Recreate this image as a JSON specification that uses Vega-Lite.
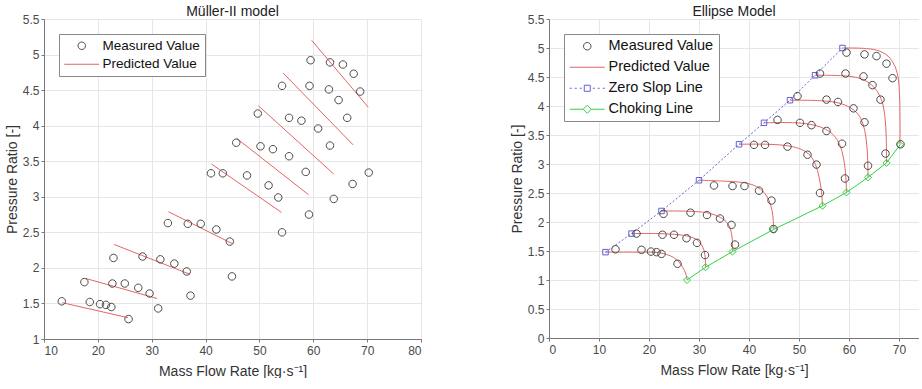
{
  "$schema": "https://vega.github.io/schema/vega-lite/v6.json",
  "padding": {"left": 5, "top": 5, "right": 0, "bottom": 0},
  "background": "white",
  "config": {
    "font": "Liberation Sans",
    "view": {"stroke": null},
    "axis": {"labelFont": "Liberation Sans", "labelFontSize": 12, "labelColor": "#4a4a4a", "titleFont": "Liberation Sans", "titleFontSize": 14, "titleFontWeight": "normal", "titleColor": "#333333", "gridColor": "#e6e6e6", "domainColor": "#777777", "tickColor": "#777777", "tickSize": 3, "labelPadding": 2},
    "axisX": {"titlePadding": 8, "labelPadding": 3},
    "axisY": {"titlePadding": 3},
    "title": {"font": "Liberation Sans", "fontSize": 14, "fontWeight": "normal", "color": "#222222", "offset": 0, "dy": 10},
    "concat": {"spacing": 88}
  },
  "resolve": {"scale": {"color": "independent", "shape": "independent"}, "legend": {"color": "independent", "shape": "independent"}},
  "datasets": {
    "meas": [
      {"x": 13.3, "y": 1.53}, {"x": 18.5, "y": 1.52}, {"x": 20.4, "y": 1.49}, {"x": 21.5, "y": 1.48}, {"x": 22.5, "y": 1.45}, {"x": 25.7, "y": 1.28},
      {"x": 17.5, "y": 1.80}, {"x": 22.7, "y": 1.78}, {"x": 25.0, "y": 1.78}, {"x": 27.5, "y": 1.72}, {"x": 29.6, "y": 1.64}, {"x": 31.2, "y": 1.43},
      {"x": 22.9, "y": 2.14}, {"x": 28.3, "y": 2.16}, {"x": 31.6, "y": 2.12}, {"x": 34.2, "y": 2.06}, {"x": 36.5, "y": 1.95}, {"x": 37.2, "y": 1.61},
      {"x": 33.0, "y": 2.63}, {"x": 36.7, "y": 2.62}, {"x": 39.1, "y": 2.62}, {"x": 42.0, "y": 2.54}, {"x": 44.5, "y": 2.37}, {"x": 44.9, "y": 1.88},
      {"x": 41.0, "y": 3.33}, {"x": 43.2, "y": 3.33}, {"x": 47.7, "y": 3.30}, {"x": 51.7, "y": 3.16}, {"x": 53.5, "y": 2.99}, {"x": 54.2, "y": 2.50},
      {"x": 45.7, "y": 3.76}, {"x": 50.2, "y": 3.71}, {"x": 52.5, "y": 3.67}, {"x": 55.5, "y": 3.57}, {"x": 58.6, "y": 3.35}, {"x": 59.2, "y": 2.75},
      {"x": 49.7, "y": 4.17}, {"x": 55.5, "y": 4.11}, {"x": 57.8, "y": 4.07}, {"x": 60.9, "y": 3.96}, {"x": 63.1, "y": 3.72}, {"x": 63.8, "y": 2.97},
      {"x": 54.2, "y": 4.56}, {"x": 59.3, "y": 4.56}, {"x": 62.9, "y": 4.51}, {"x": 64.7, "y": 4.36}, {"x": 66.3, "y": 4.11}, {"x": 67.3, "y": 3.18},
      {"x": 59.5, "y": 4.92}, {"x": 63.1, "y": 4.89}, {"x": 65.5, "y": 4.86}, {"x": 67.5, "y": 4.73}, {"x": 68.7, "y": 4.48}, {"x": 70.3, "y": 3.34}
    ],
    "mpred": [
      {"line": 1, "x": 13.4, "y": 1.51}, {"line": 1, "x": 25.6, "y": 1.30},
      {"line": 2, "x": 17.8, "y": 1.85}, {"line": 2, "x": 31.0, "y": 1.57},
      {"line": 3, "x": 23.0, "y": 2.33}, {"line": 3, "x": 37.1, "y": 1.91},
      {"line": 4, "x": 33.1, "y": 2.79}, {"line": 4, "x": 45.0, "y": 2.34},
      {"line": 5, "x": 41.1, "y": 3.46}, {"line": 5, "x": 54.1, "y": 2.78},
      {"line": 6, "x": 45.8, "y": 3.82}, {"line": 6, "x": 59.1, "y": 3.03},
      {"line": 7, "x": 49.8, "y": 4.28}, {"line": 7, "x": 63.8, "y": 3.32},
      {"line": 8, "x": 54.4, "y": 4.74}, {"line": 8, "x": 67.4, "y": 3.73},
      {"line": 9, "x": 59.7, "y": 5.20}, {"line": 9, "x": 70.2, "y": 4.26}
    ],
    "epred": [
      {"curve": 1, "i": 1, "x": 11.3, "y": 1.48}, {"curve": 1, "i": 2, "x": 17.0, "y": 1.48}, {"curve": 1, "i": 3, "x": 21.7, "y": 1.475}, {"curve": 1, "i": 4, "x": 23.5, "y": 1.44}, {"curve": 1, "i": 5, "x": 24.9, "y": 1.39}, {"curve": 1, "i": 6, "x": 26.0, "y": 1.31}, {"curve": 1, "i": 7, "x": 26.8, "y": 1.21}, {"curve": 1, "i": 8, "x": 27.3, "y": 1.12}, {"curve": 1, "i": 9, "x": 27.55, "y": 1.04}, {"curve": 1, "i": 10, "x": 27.6, "y": 1.0},
      {"curve": 2, "i": 1, "x": 16.5, "y": 1.80}, {"curve": 2, "i": 2, "x": 22.0, "y": 1.80}, {"curve": 2, "i": 3, "x": 26.0, "y": 1.78}, {"curve": 2, "i": 4, "x": 28.0, "y": 1.75}, {"curve": 2, "i": 5, "x": 29.5, "y": 1.70}, {"curve": 2, "i": 6, "x": 30.4, "y": 1.62}, {"curve": 2, "i": 7, "x": 31.0, "y": 1.51}, {"curve": 2, "i": 8, "x": 31.25, "y": 1.38}, {"curve": 2, "i": 9, "x": 31.3, "y": 1.22},
      {"curve": 3, "i": 1, "x": 22.5, "y": 2.19}, {"curve": 3, "i": 2, "x": 28.0, "y": 2.185}, {"curve": 3, "i": 3, "x": 31.5, "y": 2.16}, {"curve": 3, "i": 4, "x": 33.5, "y": 2.11}, {"curve": 3, "i": 5, "x": 35.0, "y": 2.04}, {"curve": 3, "i": 6, "x": 36.0, "y": 1.94}, {"curve": 3, "i": 7, "x": 36.5, "y": 1.80}, {"curve": 3, "i": 8, "x": 36.7, "y": 1.65}, {"curve": 3, "i": 9, "x": 36.7, "y": 1.49},
      {"curve": 4, "i": 1, "x": 30.0, "y": 2.72}, {"curve": 4, "i": 2, "x": 36.0, "y": 2.70}, {"curve": 4, "i": 3, "x": 39.5, "y": 2.67}, {"curve": 4, "i": 4, "x": 41.5, "y": 2.61}, {"curve": 4, "i": 5, "x": 43.0, "y": 2.51}, {"curve": 4, "i": 6, "x": 44.0, "y": 2.37}, {"curve": 4, "i": 7, "x": 44.6, "y": 2.20}, {"curve": 4, "i": 8, "x": 44.85, "y": 2.03}, {"curve": 4, "i": 9, "x": 44.9, "y": 1.87},
      {"curve": 5, "i": 1, "x": 38.0, "y": 3.34}, {"curve": 5, "i": 2, "x": 44.0, "y": 3.34}, {"curve": 5, "i": 3, "x": 48.0, "y": 3.31}, {"curve": 5, "i": 4, "x": 50.5, "y": 3.25}, {"curve": 5, "i": 5, "x": 52.2, "y": 3.15}, {"curve": 5, "i": 6, "x": 53.3, "y": 2.99}, {"curve": 5, "i": 7, "x": 54.0, "y": 2.78}, {"curve": 5, "i": 8, "x": 54.5, "y": 2.52}, {"curve": 5, "i": 9, "x": 54.7, "y": 2.28},
      {"curve": 6, "i": 1, "x": 43.0, "y": 3.71}, {"curve": 6, "i": 2, "x": 49.5, "y": 3.71}, {"curve": 6, "i": 3, "x": 53.0, "y": 3.67}, {"curve": 6, "i": 4, "x": 55.3, "y": 3.60}, {"curve": 6, "i": 5, "x": 57.0, "y": 3.49}, {"curve": 6, "i": 6, "x": 58.2, "y": 3.32}, {"curve": 6, "i": 7, "x": 58.9, "y": 3.10}, {"curve": 6, "i": 8, "x": 59.3, "y": 2.85}, {"curve": 6, "i": 9, "x": 59.5, "y": 2.51},
      {"curve": 7, "i": 1, "x": 48.2, "y": 4.10}, {"curve": 7, "i": 2, "x": 54.5, "y": 4.09}, {"curve": 7, "i": 3, "x": 58.0, "y": 4.05}, {"curve": 7, "i": 4, "x": 60.3, "y": 3.97}, {"curve": 7, "i": 5, "x": 61.8, "y": 3.86}, {"curve": 7, "i": 6, "x": 62.8, "y": 3.69}, {"curve": 7, "i": 7, "x": 63.4, "y": 3.45}, {"curve": 7, "i": 8, "x": 63.7, "y": 3.15}, {"curve": 7, "i": 9, "x": 63.8, "y": 2.77},
      {"curve": 8, "i": 1, "x": 53.2, "y": 4.53}, {"curve": 8, "i": 2, "x": 59.0, "y": 4.52}, {"curve": 8, "i": 3, "x": 62.0, "y": 4.48}, {"curve": 8, "i": 4, "x": 64.0, "y": 4.40}, {"curve": 8, "i": 5, "x": 65.5, "y": 4.27}, {"curve": 8, "i": 6, "x": 66.6, "y": 4.08}, {"curve": 8, "i": 7, "x": 67.2, "y": 3.80}, {"curve": 8, "i": 8, "x": 67.45, "y": 3.45}, {"curve": 8, "i": 9, "x": 67.5, "y": 3.02},
      {"curve": 9, "i": 1, "x": 58.7, "y": 5.00}, {"curve": 9, "i": 2, "x": 63.5, "y": 4.99}, {"curve": 9, "i": 3, "x": 66.0, "y": 4.95}, {"curve": 9, "i": 4, "x": 67.8, "y": 4.86}, {"curve": 9, "i": 5, "x": 69.1, "y": 4.70}, {"curve": 9, "i": 6, "x": 69.8, "y": 4.50}, {"curve": 9, "i": 7, "x": 70.1, "y": 4.20}, {"curve": 9, "i": 8, "x": 70.2, "y": 3.80}, {"curve": 9, "i": 9, "x": 70.2, "y": 3.33}
    ],
    "zero": [
      {"x": 11.3, "y": 1.48}, {"x": 16.5, "y": 1.80}, {"x": 22.5, "y": 2.19}, {"x": 30.0, "y": 2.72}, {"x": 38.0, "y": 3.34}, {"x": 43.0, "y": 3.71}, {"x": 48.2, "y": 4.10}, {"x": 53.2, "y": 4.53}, {"x": 58.7, "y": 5.00}
    ],
    "choke": [
      {"x": 27.6, "y": 1.00}, {"x": 31.3, "y": 1.22}, {"x": 36.7, "y": 1.49}, {"x": 44.9, "y": 1.87}, {"x": 54.7, "y": 2.28}, {"x": 59.5, "y": 2.51}, {"x": 63.8, "y": 2.77}, {"x": 67.5, "y": 3.02}, {"x": 70.2, "y": 3.33}
    ]
  },
  "hconcat": [
    {
      "width": 377,
      "height": 320,
      "title": "Müller-II model",
      "encoding": {
        "x": {"field": "x", "type": "quantitative", "scale": {"domain": [10, 80], "nice": false, "zero": false}, "axis": {"values": [10, 20, 30, 40, 50, 60, 70, 80], "title": "Mass Flow Rate [kg·s⁻¹]"}},
        "y": {"field": "y", "type": "quantitative", "scale": {"domain": [1, 5.5], "nice": false, "zero": false}, "axis": {"values": [1, 1.5, 2, 2.5, 3, 3.5, 4, 4.5, 5, 5.5], "format": "~g", "title": "Pressure Ratio [-]"}}
      },
      "layer": [
        {
          "data": {"name": "mpred"},
          "mark": {"type": "line", "strokeWidth": 1, "color": "#e46464"},
          "encoding": {"detail": {"field": "line", "type": "nominal"}}
        },
        {
          "data": {"name": "meas"},
          "mark": {"type": "point", "filled": false, "size": 100, "strokeWidth": 1, "opacity": 1},
          "encoding": {
            "color": {
              "datum": "Measured Value",
              "scale": {"domain": ["Measured Value", "Predicted Value"], "range": ["#4a4a4a", "#e46464"]},
              "legend": {"title": null, "orient": "top-left", "offset": 15, "padding": 5, "strokeColor": "#888888", "fillColor": "white", "labelFont": "Liberation Sans", "labelFontSize": 13.5, "labelColor": "#111111", "labelLimit": 300, "symbolSize": 100, "symbolStrokeWidth": 1, "symbolOffset": 11, "labelOffset": 14, "rowPadding": 3.5}
            },
            "shape": {
              "datum": "Measured Value",
              "scale": {"domain": ["Measured Value", "Predicted Value"], "range": ["M0.75,0A0.75,0.75,0,1,1,-0.75,0A0.75,0.75,0,1,1,0.75,0Z", "M-3.5,0L3.5,0"]},
              "legend": {"title": null, "orient": "top-left", "offset": 15, "padding": 5, "strokeColor": "#888888", "fillColor": "white", "labelFont": "Liberation Sans", "labelFontSize": 13.5, "labelColor": "#111111", "labelLimit": 300, "symbolSize": 100, "symbolStrokeWidth": 1, "symbolOffset": 11, "labelOffset": 14, "rowPadding": 3.5}
            }
          }
        }
      ]
    },
    {
      "width": 370,
      "height": 319,
      "title": "Ellipse Model",
      "encoding": {
        "x": {"field": "x", "type": "quantitative", "scale": {"domain": [0, 74], "nice": false, "zero": false}, "axis": {"values": [0, 10, 20, 30, 40, 50, 60, 70], "title": "Mass Flow Rate [kg·s⁻¹]"}},
        "y": {"field": "y", "type": "quantitative", "scale": {"domain": [0, 5.5], "nice": false, "zero": false}, "axis": {"values": [0, 0.5, 1, 1.5, 2, 2.5, 3, 3.5, 4, 4.5, 5, 5.5], "format": "~g", "title": "Pressure Ratio [-]"}}
      },
      "layer": [
        {
          "data": {"name": "epred"},
          "mark": {"type": "line", "strokeWidth": 1, "interpolate": "catmull-rom", "color": "#e46464"},
          "encoding": {
            "detail": {"field": "curve", "type": "nominal"},
            "order": {"field": "i", "type": "quantitative"}
          }
        },
        {
          "data": {"name": "zero"},
          "mark": {"type": "line", "strokeWidth": 1, "strokeDash": [2, 2], "color": "#6060d8"},
          "encoding": {}
        },
        {
          "data": {"name": "zero"},
          "mark": {"type": "point", "shape": "square", "filled": false, "size": 30, "strokeWidth": 1, "opacity": 1, "color": "#6060d8"},
          "encoding": {}
        },
        {
          "data": {"name": "choke"},
          "mark": {"type": "line", "strokeWidth": 1, "color": "#33d144"},
          "encoding": {}
        },
        {
          "data": {"name": "choke"},
          "mark": {"type": "point", "shape": "diamond", "filled": false, "size": 50, "strokeWidth": 1, "opacity": 1, "color": "#33d144"},
          "encoding": {}
        },
        {
          "data": {"name": "meas"},
          "mark": {"type": "point", "filled": false, "size": 100, "strokeWidth": 1, "opacity": 1},
          "encoding": {
            "color": {
              "datum": "Measured Value",
              "scale": {"domain": ["Measured Value", "Predicted Value", "Zero Slop Line", "Choking Line"], "range": ["#4a4a4a", "#e46464", "#6060d8", "#33d144"]},
              "legend": {"title": null, "orient": "top-left", "offset": 15, "padding": 5, "strokeColor": "#888888", "fillColor": "white", "labelFont": "Liberation Sans", "labelFontSize": 14.5, "labelColor": "#111111", "labelLimit": 300, "symbolSize": 100, "symbolStrokeWidth": 1, "symbolOffset": 11, "labelOffset": 14, "rowPadding": 6}
            },
            "shape": {
              "datum": "Measured Value",
              "scale": {"domain": ["Measured Value", "Predicted Value", "Zero Slop Line", "Choking Line"], "range": ["M0.75,0A0.75,0.75,0,1,1,-0.75,0A0.75,0.75,0,1,1,0.75,0Z", "M-3.5,0L3.5,0", "M-3.5,0L-3.1,0M-2.5,0L-2.1,0M-1.5,0L-1.1,0M-0.6,-0.6L0.6,-0.6L0.6,0.6L-0.6,0.6ZM1.1,0L1.5,0M2.1,0L2.5,0M3.1,0L3.5,0", "M-3.5,0L-0.8,0M0.8,0L3.5,0M0,-0.8L0.8,0L0,0.8L-0.8,0Z"]},
              "legend": {"title": null, "orient": "top-left", "offset": 15, "padding": 5, "strokeColor": "#888888", "fillColor": "white", "labelFont": "Liberation Sans", "labelFontSize": 14.5, "labelColor": "#111111", "labelLimit": 300, "symbolSize": 100, "symbolStrokeWidth": 1, "symbolOffset": 11, "labelOffset": 14, "rowPadding": 6}
            }
          }
        }
      ]
    }
  ]
}
